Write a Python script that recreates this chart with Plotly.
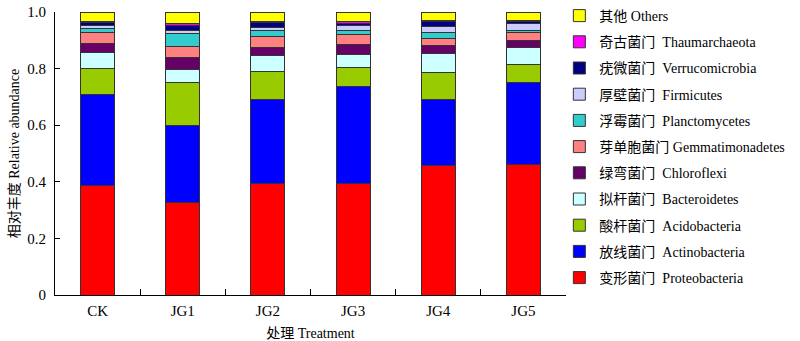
import plotly.graph_objects as go

categories = ["CK", "JG1", "JG2", "JG3", "JG4", "JG5"]

series_names = [
    "变形菌门  Proteobacteria",
    "放线菌门  Actinobacteria",
    "酸杆菌门  Acidobacteria",
    "拟杆菌门  Bacteroidetes",
    "绿弯菌门  Chloroflexi",
    "芽单胞菌门 Gemmatimonadetes",
    "浮霉菌门  Planctomycetes",
    "厚壁菌门  Firmicutes",
    "疣微菌门  Verrucomicrobia",
    "奇古菌门  Thaumarchaeota",
    "其他 Others",
]

proteobacteria   = [0.386, 0.328, 0.393, 0.393, 0.456, 0.461]
actinobacteria   = [0.321, 0.272, 0.299, 0.342, 0.235, 0.289]
acidobacteria    = [0.095, 0.150, 0.098, 0.069, 0.094, 0.063]
bacteroidetes    = [0.056, 0.047, 0.055, 0.047, 0.070, 0.063]
chloroflexi      = [0.032, 0.041, 0.031, 0.033, 0.025, 0.022]
gemmatimonadetes = [0.036, 0.040, 0.038, 0.037, 0.028, 0.028]
planctomycetes   = [0.016, 0.045, 0.019, 0.013, 0.020, 0.008]
firmicutes       = [0.010, 0.012, 0.014, 0.018, 0.021, 0.025]
verrucomicrobia  = [0.012, 0.016, 0.016, 0.008, 0.019, 0.009]
thaumarchaeota   = [0.002, 0.010, 0.002, 0.005, 0.002, 0.002]
others           = [0.034, 0.039, 0.035, 0.034, 0.030, 0.030]

series_values = [proteobacteria, actinobacteria, acidobacteria, bacteroidetes,
                 chloroflexi, gemmatimonadetes, planctomycetes, firmicutes,
                 verrucomicrobia, thaumarchaeota, others]

colors = ["#FF0000", "#0000FF", "#99CC00", "#CCFFFF", "#660066", "#FF8080",
          "#33CCCC", "#CCCCFF", "#000080", "#FF00FF", "#FFFF00"]

y_ticks = [0, 0.2, 0.4, 0.6, 0.8, 1.0]
y_tick_labels = ["0", "0.2", "0.4", "0.6", "0.8", "1.0"]

FONT = "Liberation Serif, Times New Roman, Noto Sans CJK SC, serif"

fig = go.Figure()
for i, (name, vals, col) in enumerate(zip(series_names, series_values, colors)):
    fig.add_trace(go.Bar(
        x=categories, y=vals, name=name,
        marker=dict(color=col, line=dict(color="#333333", width=1)),
        width=0.4, legendgroup="g%02d" % (len(series_names) - i),
        legendrank=len(series_names) - i,
    ))

fig.update_layout(
    barmode="stack",
    width=800, height=341,
    margin=dict(l=55, r=234, t=12, b=46, autoexpand=False),
    plot_bgcolor="white", paper_bgcolor="white",
    font=dict(family=FONT, size=14, color="black"),
    showlegend=True,
    legend=dict(
        traceorder="grouped", tracegroupgap=5,
        x=0.987, xanchor="left", yref="container", y=1.0, yanchor="top",
        font=dict(family=FONT, size=14, color="black"),
        bgcolor="rgba(0,0,0,0)", itemwidth=30,
        maxheight=1.0,
    ),
)
fig.update_xaxes(
    type="category", showline=True, linecolor="black", linewidth=1,
    ticks="inside", ticklen=6, tickcolor="black", tickson="boundaries",
    title=dict(text="处理 Treatment", font=dict(family=FONT, size=14), standoff=10),
    tickfont=dict(family=FONT, size=15), showgrid=False, mirror=False,
    ticklabelstandoff=2, automargin=False,
)
fig.update_yaxes(
    range=[0, 1.0], showline=True, linecolor="black", linewidth=1,
    ticks="inside", ticklen=5, tickcolor="black",
    tickvals=y_ticks, ticktext=y_tick_labels,
    title=dict(text="相对丰度 Relative abundance", font=dict(family=FONT, size=14), standoff=4),
    tickfont=dict(family=FONT, size=15), showgrid=False, zeroline=False,
    ticklabelstandoff=5, automargin=False,
)

fig.write_html("out.html")
